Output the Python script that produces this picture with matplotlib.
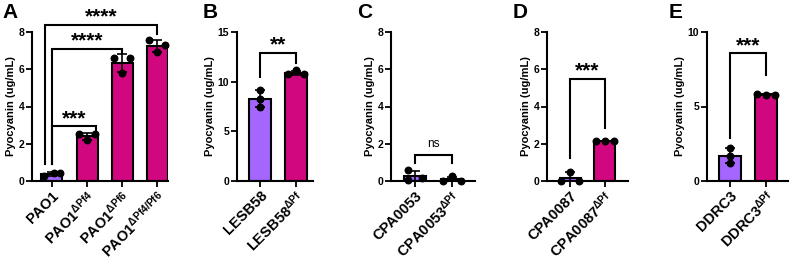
import numpy as np
import matplotlib
matplotlib.use('Agg')
import matplotlib.pyplot as plt

plt.rcParams['font.family'] = ['Liberation Sans', 'DejaVu Sans']
plt.rcParams['mathtext.default'] = 'regular'

PURPLE = '#a466ff'
MAGENTA = '#d1077f'

# --- data (ug/mL pyocyanin, three replicates per strain) ---
a_labels = ['PAO1', r'PAO1$^{\mathregular{\Delta Pf4}}$',
            r'PAO1$^{\mathregular{\Delta Pf6}}$', r'PAO1$^{\mathregular{\Delta Pf4/Pf6}}$']
a_points = [[0.25, 0.45, 0.42], [2.5, 2.2, 2.5], [6.6, 5.8, 6.6], [7.55, 6.9, 7.3]]

b_labels = ['LESB58', r'LESB58$^{\mathregular{\Delta Pf}}$']
b_points = [[9.2, 8.3, 7.4], [11.15, 10.75, 10.75]]

c_labels = ['CPA0053', r'CPA0053$^{\mathregular{\Delta Pf}}$']
c_points = [[0.6, 0.05, 0.15], [0.25, 0.0, 0.0]]

d_labels = ['CPA0087', r'CPA0087$^{\mathregular{\Delta Pf}}$']
d_points = [[0.5, 0.0, 0.02], [2.15, 2.15, 2.15]]

e_labels = ['DDRC3', r'DDRC3$^{\mathregular{\Delta Pf}}$']
e_points = [[2.2, 1.7, 1.2], [5.85, 5.8, 5.8]]

# (x_left, x_right, y_top, y_left_end, y_right_end, label)
a_sig = [(0, 1.25, 2.95, 0.9, 2.7, '***'), (0, 2, 7.1, 0.9, 6.85, '****'),
         (-0.2, 3, 8.4, 0.9, 7.9, '****')]
b_sig = [(0, 1, 12.9, 10.45, 11.9, '**')]
c_sig = [(0, 1, 1.37, 0.98, 0.98, 'ns')]
d_sig = [(0, 1, 5.49, 1.22, 2.83, '***')]
e_sig = [(0, 1, 8.59, 2.87, 7.13, '***')]

# horizontal scatter of dots inside each bar (style only)
a_jit = [[-0.22, 0.05, 0.22], [-0.22, 0, 0.22], [-0.22, 0, 0.22], [-0.22, 0, 0.22]]
b_jit = [[0, 0, 0], [0, -0.22, 0.22]]
c_jit = [[-0.2, -0.2, 0.2], [0, -0.25, 0.25]]
d_jit = [[0, -0.25, 0.25], [-0.25, 0, 0.25]]
e_jit = [[0, 0, 0], [-0.25, 0, 0.25]]

W, H = 790, 262
fig = plt.figure(figsize=(W / 100, H / 100), dpi=100)


def panel(x0, x1, letter, lx, labels, points, jit, sig, ymax, yticks, xlim):
    bottom, top = 181, 32
    ax = fig.add_axes([x0 / W, 1 - bottom / H, (x1 - x0) / W, (bottom - top) / H])
    pos = np.arange(len(labels))
    means = [np.mean(p) for p in points]
    sds = [np.std(p, ddof=1) for p in points]
    cols = [PURPLE] + [MAGENTA] * (len(labels) - 1)
    ax.bar(pos, means, width=0.6, color=cols, edgecolor='black', linewidth=1.5, zorder=2)
    ax.errorbar(pos, means, yerr=sds, fmt='none', ecolor='black', elinewidth=1.2,
                capsize=3.5, capthick=1.2, zorder=3)
    for i, p in enumerate(points):
        ax.scatter(pos[i] + np.array(jit[i]), p, s=22, color='black', zorder=4, clip_on=False)
    for (xa, xb, yt, yla, ylb, txt) in sig:
        ax.plot([xa, xa, xb, xb], [yla, yt, yt, ylb], color='black', lw=1.5,
                clip_on=False, solid_joinstyle='miter', zorder=5)
        if txt == 'ns':
            ax.text((xa + xb) / 2, yt + ymax * 0.04, txt, ha='center', va='bottom',
                    fontsize=8.5)
        else:
            ax.annotate(txt, ((xa + xb) / 2, yt), xytext=(0, 1.5), textcoords='offset points',
                        ha='center', va='baseline', fontsize=15, fontweight='bold',
                        annotation_clip=False)
    ax.set_ylim(0, ymax)
    ax.set_xlim(*xlim)
    ax.set_yticks(yticks)
    ax.set_xticks(pos)
    ax.set_xticklabels(labels, rotation=45, ha='right', rotation_mode='anchor',
                       fontsize=10.5, fontweight='bold')
    for t in ax.get_yticklabels():
        t.set_fontweight('bold')
        t.set_fontsize(7.5)
    ax.set_ylabel('Pyocyanin (ug/mL)', fontsize=8, fontweight='bold', labelpad=2)
    for s in ['top', 'right']:
        ax.spines[s].set_visible(False)
    for s in ['left', 'bottom']:
        ax.spines[s].set_linewidth(1.5)
    ax.tick_params(width=1.3, length=4, pad=1.5)
    fig.text(lx / W, 1 - 3 / H, letter, fontsize=15, fontweight='bold', va='top', ha='left')
    return ax


panel(32, 168, 'A', 2, a_labels, a_points, a_jit, a_sig, 8, [0, 2, 4, 6, 8], (-0.57, 3.31))
panel(237, 313, 'B', 203, b_labels, b_points, b_jit, b_sig, 15, [0, 5, 10, 15], (-0.64, 1.47))
panel(391, 475, 'C', 357, c_labels, c_points, c_jit, c_sig, 8, [0, 2, 4, 6, 8], (-0.65, 1.62))
panel(547, 628, 'D', 513, d_labels, d_points, d_jit, d_sig, 8, [0, 2, 4, 6, 8], (-0.66, 1.66))
panel(707, 788, 'E', 669, e_labels, e_points, e_jit, e_sig, 10, [0, 5, 10], (-0.64, 1.61))

fig.savefig('out.png', dpi=100)
